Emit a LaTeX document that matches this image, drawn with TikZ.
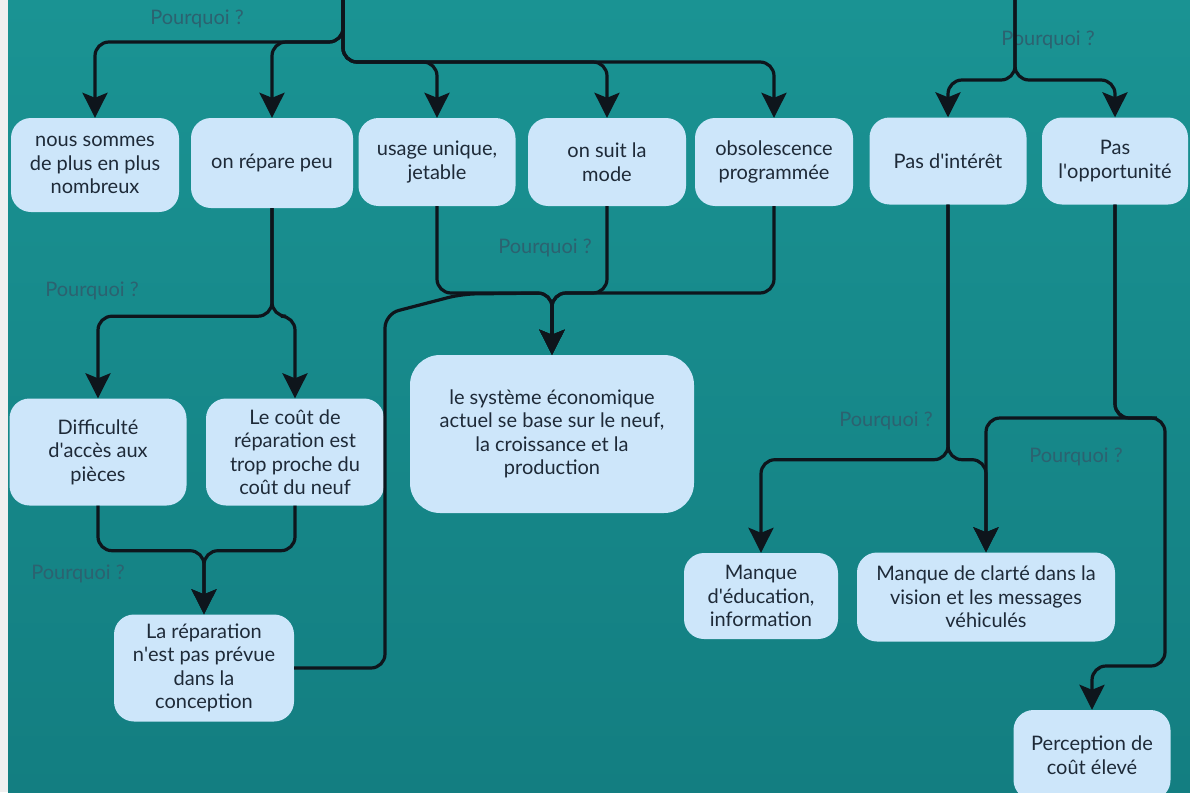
\documentclass[tikz,border=0pt]{standalone}
\usepackage{fontspec}
\setmainfont{Lato}
\usepackage{tikz}
\usetikzlibrary{arrows.meta}
\definecolor{WhyTeal}{HTML}{1A9393}
\definecolor{WhyTealDark}{HTML}{137E81}
\definecolor{WhyBox}{HTML}{CDE6FA}
\definecolor{WhyInk}{HTML}{1E2A38}
\definecolor{WhyLabel}{HTML}{2C6270}
\definecolor{WhyLine}{HTML}{0E151C}
\newcommand{\ap}{\textquotesingle}

\begin{document}
\begin{tikzpicture}[
    x=1pt,y=-1pt,
    every node/.style={font=\fontsize{20}{23.5}\selectfont},
    box/.style={fill=WhyBox,text=WhyInk,rounded corners=20pt,align=center,inner sep=2pt},
    why/.style={text=WhyLabel},
    arrow/.style={-{Stealth[length=25pt,width=25pt,inset=5pt]},line width=3.2pt,draw=WhyLine,rounded corners=14pt}
  ]
  % background
  \useasboundingbox (0,0) rectangle (1190,792);
  \fill[gray!12] (0,0) rectangle (8,792);
  \shade[top color=WhyTeal,bottom color=WhyTealDark] (8,0) rectangle (1190,792);

  % first row
  \node[box,minimum width=168pt,minimum height=94pt] (nous) at (95,165) {nous sommes\\de plus en plus\\nombreux};
  \node[box,minimum width=162pt,minimum height=90pt] (repare) at (272,163) {on répare peu};
  \node[box,minimum width=157pt,minimum height=88pt] (usage) at (437,162) {usage unique,\\jetable};
  \node[box,minimum width=158pt,minimum height=88pt] (mode) at (607,162) {on suit la\\mode};
  \node[box,minimum width=158pt,minimum height=88pt] (obso) at (774,162) {obsolescence\\programmée};
  \node[box,minimum width=157pt,minimum height=87pt] (interet) at (948,161) {Pas d\ap{}intérêt};
  \node[box,minimum width=146pt,minimum height=87pt] (opport) at (1115,161) {Pas\\l\ap{}opportunité};

  % second row
  \node[box,minimum width=177pt,minimum height=107pt] (acces) at (98,452) {Difficulté\\d\ap{}accès aux\\pièces};
  \node[box,minimum width=178pt,minimum height=107pt] (cout) at (295,452) {Le coût de\\réparation est\\trop proche du\\coût du neuf};
  \node[box,minimum width=284pt,minimum height=158pt,rounded corners=30pt] (systeme) at (552,434) {le système économique\\actuel se base sur le neuf,\\la croissance et la\\production};
  \node[box,minimum width=180pt,minimum height=107pt] (prevue) at (204,668) {La réparation\\n\ap{}est pas prévue\\dans la\\conception};
  \node[box,minimum width=154pt,minimum height=86pt] (educ) at (761,596) {Manque\\d\ap{}éducation,\\information};
  \node[box,minimum width=258pt,minimum height=89pt] (clarte) at (986,597) {Manque de clarté dans la\\vision et les messages\\véhiculés};
  \node[box,minimum width=157pt,minimum height=90pt] (percep) at (1092,755) {Perception de\\coût élevé};

  % labels
  \node[why] (q1) at (197,19) {Pourquoi ?};
  \node[why] (q2) at (1048,40) {Pourquoi ?};
  \node[why] (q3) at (92,291) {Pourquoi ?};
  \node[why] (q4) at (545,248) {Pourquoi ?};
  \node[why] (q5) at (78,574) {Pourquoi ?};
  \node[why] (q6) at (886,421) {Pourquoi ?};
  \node[why] (q7) at (1076,457) {Pourquoi ?};

  % joints
  \coordinate (top1) at (343,-10);
  \coordinate (s1) at (343,42);
  \coordinate (s2) at (343,62);
  \coordinate (top2) at (1015,-10);
  \coordinate (s3) at (1015,80);
  \coordinate (m) at (552,293);
  \coordinate (b1) at (385,314);
  \coordinate (b2) at (462,294);
  \coordinate (r1) at (1165,418);
  \coordinate (r2) at (1165,666);

  \draw[arrow] (top1) -- (s1) -| (nous.north);
  \draw[arrow] (top1) -- (s1) -| (repare.north);
  \draw[arrow] (top1) -- (s2) -| (usage.north);
  \draw[arrow] (top1) -- (s2) -| (mode.north);
  \draw[arrow] (top1) -- (s2) -| (obso.north);
  \draw[arrow] (top2) -- (s3) -| (interet.north);
  \draw[arrow] (top2) -- (s3) -| (opport.north);

  \draw[arrow] (repare.south) -- ++(0,108) -| (acces.north);
  \draw[arrow] (repare.south) -- ++(0,108) -| (cout.north);
  \draw[arrow] (acces.south) -- ++(0,45) -| (prevue.north);
  \draw[arrow] (cout.south) -- ++(0,45) -| (prevue.north);

  \draw[arrow] (usage.south) |- (m) -- (systeme.north);
  \draw[arrow] (mode.south) |- (m) -- (systeme.north);
  \draw[arrow] (obso.south) |- (m) -- (systeme.north);
  \draw[arrow] (prevue.east) -| (b1) -- (b2) -- (m) -- (systeme.north);

  \draw[arrow] (interet.south) -- ++(0,255) -| (educ.north);
  \draw[arrow] (interet.south) -- ++(0,255) -| (clarte.north);
  \draw[arrow] (opport.south) |- (r1) -| (clarte.north);
  \draw[arrow] (opport.south) |- (r1) -- (r2) -| (percep.north);
\end{tikzpicture}
\end{document}
